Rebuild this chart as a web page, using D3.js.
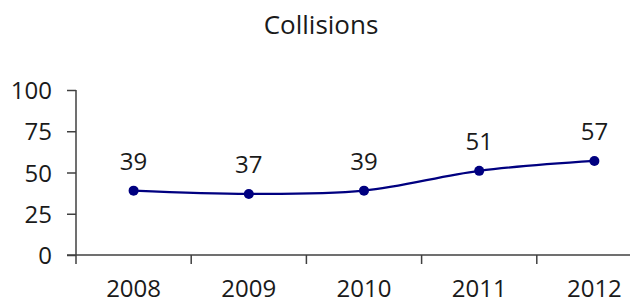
<!DOCTYPE html>
<html><head><meta charset="utf-8">
<script src="https://cdn.jsdelivr.net/npm/d3@7"></script>
<style>body{margin:0;background:#fff}svg{display:block}text{font-family:"Open Sans","Noto Sans",sans-serif;fill:#1a1a1a}</style>
</head><body>
<script>
const categories = ["2008","2009","2010","2011","2012"];
const values = [39,37,39,51,57];
const yTicks = [0,25,50,75,100];
const title = "Collisions";

const W=630,H=299;
const svg=d3.select("body").append("svg").attr("width",W).attr("height",H);
const x=d3.scaleBand().domain(categories).range([76,652]);
const y=d3.scaleLinear().domain([0,100]).range([255,90]);
const axisColor="#404040";
const fs=24;

svg.append("text").attr("x",321).attr("y",34).attr("text-anchor","middle").attr("font-size",26).text(title);

// y axis
const ya=svg.append("g").attr("transform","translate(76,0)").call(d3.axisLeft(y).tickValues(yTicks).tickSize(9).tickPadding(15));
ya.select(".domain").remove();
ya.selectAll("line").attr("stroke",axisColor).attr("stroke-width",1.5);
ya.selectAll("text").attr("font-size",fs).style("font-family",'"Open Sans","Noto Sans",sans-serif').attr("fill","#1a1a1a").attr("dy","0.36em");
svg.append("line").attr("x1",76).attr("x2",76).attr("y1",y(100)).attr("y2",264).attr("stroke",axisColor).attr("stroke-width",1.5);

// x axis
svg.append("line").attr("x1",67).attr("x2",W).attr("y1",255).attr("y2",255).attr("stroke",axisColor).attr("stroke-width",1.5);
const bounds=categories.slice(1).map(c=>x(c)).concat([x.range()[1]]);
svg.selectAll(".xt").data(bounds).join("line").attr("x1",d=>d).attr("x2",d=>d).attr("y1",255).attr("y2",264).attr("stroke",axisColor).attr("stroke-width",1.5);
svg.selectAll(".xl").data(categories).join("text").attr("x",d=>x(d)+x.bandwidth()/2).attr("y",297).attr("text-anchor","middle").attr("font-size",fs).text(d=>d);

// line
const cx=(d,i)=>x(categories[i])+x.bandwidth()/2;
const line=d3.line().x((d,i)=>cx(d,i)).y(d=>y(d)).curve(d3.curveCatmullRom.alpha(0.5));
svg.append("path").datum(values).attr("d",line).attr("fill","none").attr("stroke","#000080").attr("stroke-width",2.2);
svg.selectAll(".pt").data(values).join("circle").attr("cx",(d,i)=>cx(d,i)).attr("cy",d=>y(d)).attr("r",5).attr("fill","#000080");
svg.selectAll(".lbl").data(values).join("text").attr("x",(d,i)=>cx(d,i)).attr("y",d=>y(d)-21).attr("text-anchor","middle").attr("font-size",fs).text(d=>d);
</script>
</body></html>
